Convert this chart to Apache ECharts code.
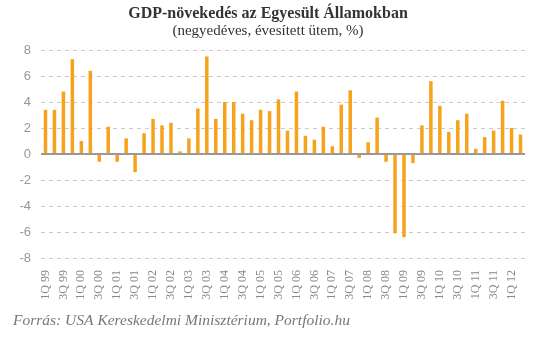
<!DOCTYPE html>
<html><head><meta charset="utf-8">
<script src="https://cdn.jsdelivr.net/npm/echarts@6/dist/echarts.min.js"></script>
<style>html,body{margin:0;padding:0;background:#fff}#c{width:547px;height:355px}</style>
</head><body><div id="c"></div>
<script>
var years = ['99','00','01','02','03','04','05','06','07','08','09','10','11','12'];
var categories = [];
years.forEach(function(y){ for (var q=1;q<=4;q++) categories.push(q+'Q '+y); });
categories = categories.slice(0, 54);
var growth = [3.4,3.4,4.8,7.3, 1.0,6.4,-0.6,2.1, -0.6,1.2,-1.4,1.6, 2.7,2.2,2.4,0.2,
  1.2,3.5,7.5,2.7, 4.0,4.0,3.1,2.6, 3.4,3.3,4.2,1.8, 4.8,1.4,1.1,2.1,
  0.6,3.8,4.9,-0.3, 0.9,2.8,-0.6,-6.1, -6.4,-0.7,2.2,5.6, 3.7,1.7,2.6,3.1,
  0.4,1.3,1.8,4.1, 2.0,1.5];
var yTicks = [-8,-6,-4,-2,0,2,4,6,8];

var chart = echarts.init(document.getElementById('c'));
chart.setOption({
  animation: false,
  graphic: [{
    type: 'text', x: 268, y: 14,
    style: {text: 'GDP-növekedés az Egyesült Államokban', align: 'center', verticalAlign: 'middle', fontFamily: 'Liberation Serif', fontWeight: 'bold', fontSize: 16, fill: '#333'}
  }, {
    type: 'text', x: 268, y: 31,
    style: {text: '(negyedéves, évesített ütem, %)', align: 'center', verticalAlign: 'middle', fontFamily: 'Liberation Serif', fontSize: 15, fill: '#333'}
  }, {
    type: 'text', left: 13, top: 313,
    style: {text: 'Forrás: USA Kereskedelmi Minisztérium, Portfolio.hu', fontFamily: 'Liberation Serif', fontStyle: 'italic', fontSize: 15.5, fill: '#777'}
  }],
  grid: {left: 41, right: 22, top: 50, bottom: 97},
  xAxis: {
    type: 'category', data: categories, position: 'bottom',
    axisLine: {show: false, onZero: false}, axisTick: {show: false},
    axisLabel: {interval: 1, rotate: 90, margin: 12, fontFamily: 'Liberation Serif', fontSize: 12, color: '#888'}
  },
  yAxis: {
    type: 'value', min: yTicks[0], max: yTicks[yTicks.length-1], interval: 2,
    axisLine: {show: false}, axisTick: {show: false},
    axisLabel: {fontFamily: 'Liberation Sans', fontSize: 13, color: '#999', margin: 10},
    splitLine: {lineStyle: {color: '#ccc', type: [4,4], width: 1}}
  },
  series: [{
    type: 'bar', data: growth, barWidth: 3.5,
    itemStyle: {color: '#F7A21B'},
    markLine: {silent: true, symbol: 'none', label: {show: false},
      lineStyle: {color: '#999', type: 'solid', width: 2},
      data: [{yAxis: 0}]}
  }]
});
</script></body></html>
